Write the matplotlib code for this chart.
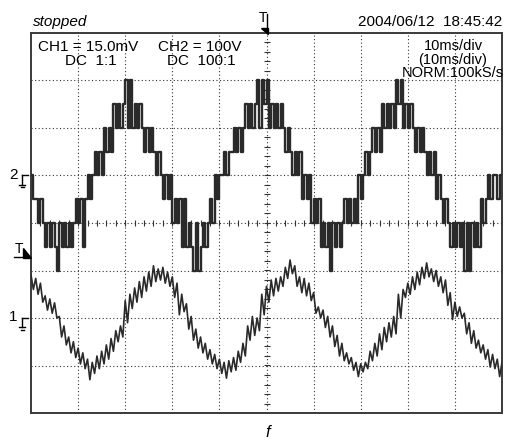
import numpy as np
import matplotlib
matplotlib.use("Agg")
import matplotlib.pyplot as plt
from matplotlib.patches import Polygon

plt.rcParams['font.family'] = ['Liberation Sans', 'DejaVu Sans']

# sample times, ms (10 ms/div, 100 kS/s shown at 0.5 ms spacing)
t_ms = np.arange(0, 100.5, 0.5)

# CH2: multilevel inverter voltage, V (100 V/div), ground marker at +1 div
ch2_volts = [
    0, -50, -50, -100, -50, -100,
    -150, -100, -150, -100, -150, -200, -100, -150, -100, -150, -100, -150, -100,
    -50, -100, -50, -150, -50, 0, -50, 0, 50, 0, 50, 0,
    100, 50, 100, 50, 150, 100, 150, 100, 150, 200, 100, 200,
    100, 150, 100, 150, 100, 50, 100, 50, 100, 50, 0, 50, 0,
    -50, 0, -50, 0, -100, -50, -100, -50, -150, -50,
    -150, -100, -150, -200, -100, -200, -150, -100, -150, -100,
    -50, -100, 0, -50, 0, 0, 50, 0, 50,
    50, 100, 50, 100, 50, 100, 150, 100, 150, 100,
    150, 200, 100, 200, 150, 200, 100, 150, 100, 150, 100, 150, 100,
    50, 100, 50, 0, 50, 0, 50, -50, 0, -50, 0, -100, -50, -100, -50,
    -150, -100, -150, -100, -200, -100, -150, -100, -150, -100,
    -50, -100, -50, -100, -50, -100, 0, -50, 0, 50, 0, 50,
    100, 50, 100, 50, 150, 100, 150, 100, 150, 100,
    200, 150, 200, 100, 150, 100, 150, 100,
    50, 100, 50, 100, 50, 0, 50, 0, 50, -50, 0, -50, -100, -50, -100,
    -150, -100, -150, -100, -150, -100, -200, -100, -200, -100, -150, -100, -150,
    -50, -100, -50, 0, -50, 0, 0, -50, 0, 0,
]

# CH1: current sense signal, mV (15 mV/div), ground marker at -2 div
ch1_mv = [
    13.6, 9.0, 12.5, 7.5, 11.0, 5.0, 7.0, 2.5, 6.0, 1.5,
    4.8, 0.0, 0.5, -6.0, -2.5, -8.5, -6.0, -11.0, -7.5, -12.5,
    -9.5, -14.5, -11.0, -16.0, -13.0, -19.5, -14.0, -17.5, -12.0, -16.0,
    -10.5, -14.5, -8.5, -13.0, -6.5, -10.5, -4.0, -7.5, -2.5, -6.0,
    5.5, -1.5, 7.5, 3.0, 9.5, 5.0, 11.5, 6.5, 13.0, 8.5,
    14.5, 10.0, 16.5, 11.5, 15.5, 12.0, 16.0, 11.0, 14.5, 10.0,
    13.0, 6.5, 11.0, 1.0, 7.5, 2.0, 4.5, -3.5, 0.5, -7.0,
    -3.5, -9.5, -6.0, -11.0, -8.0, -13.0, -10.0, -14.5, -11.5, -16.0,
    -13.0, -17.5, -14.0, -19.0, -13.5, -17.0, -12.5, -16.5, -10.5, -14.0,
    -8.0, -12.0, -2.5, -7.0, 0.5, -5.5, 0.0, -4.0, 7.5, 1.0,
    10.0, 5.0, 12.0, 7.0, 12.5, 8.5, 13.0, 10.0, 16.0, 12.5,
    18.3, 14.0, 16.5, 10.0, 13.0, 8.0, 12.5, 7.0, 11.0, 5.5,
    8.0, 1.5, 3.5, 0.0, 2.5, -3.0, 0.5, -6.0, -2.5, -9.0,
    -5.5, -12.0, -8.0, -13.5, -11.0, -14.5, -12.5, -16.5, -14.0, -18.5,
    -14.5, -17.0, -14.0, -16.0, -10.5, -13.5, -8.0, -12.0, -5.0, -10.0,
    -3.0, -7.5, -1.5, -6.0, 0.5, -5.0, 7.5, 0.0, 9.0, 6.5,
    11.0, 7.5, 13.0, 9.0, 14.5, 10.5, 16.0, 12.5, 17.4, 13.0,
    15.5, 11.5, 15.0, 10.0, 13.0, 8.0, 12.0, 4.0, 8.0, -0.5,
    5.0, 0.5, 3.5, 0.0, 1.5, -5.0, -1.5, -8.0, -4.0, -9.5,
    -7.0, -11.0, -8.5, -13.0, -10.0, -15.5, -11.5, -16.0, -13.0, -18.5, -14.0,
]

ch2_scale, ch2_pos = 100.0, 1.0   # V/div, ground position (div)
ch1_scale, ch1_pos = 15.0, -2.0   # mV/div, ground position (div)

W, H = 505, 448
fig = plt.figure(figsize=(W / 100, H / 100), dpi=100)
L, R, T, B = 31, 502, 33, 413
ax = fig.add_axes([L / W, 1 - B / H, (R - L) / W, (B - T) / H])
ax.set_xlim(0, 100)
ax.set_ylim(-4, 4)
ax.set_xticks([])
ax.set_yticks([])
for s in ax.spines.values():
    s.set_color('#3a3a3a')
    s.set_linewidth(1.4)

# graticule
dot = (0, (1, 2.2))
for gx in range(10, 100, 10):
    ax.axvline(gx, color='#333333', lw=0.8, ls=dot, zorder=1)
for gy in range(-3, 4):
    ax.axhline(gy, color='#333333', lw=0.8, ls=dot, zorder=1)
ax.plot(np.arange(2, 100, 2), np.zeros(49), ls='none', marker='|',
        ms=5, mew=0.8, color='#333333', zorder=1)
ax.plot(np.full(39, 50.0), np.arange(-3.8, 3.9, 0.2), ls='none', marker='_',
        ms=5, mew=0.8, color='#333333', zorder=1)

ch2 = ch2_pos + np.array(ch2_volts) / ch2_scale
ch1 = ch1_pos + np.array(ch1_mv) / ch1_scale
ax.plot(t_ms, ch2, drawstyle='steps-post', color='#2a2a2a', lw=1.7, zorder=3)
ax.plot(t_ms, ch1, color='#2a2a2a', lw=1.2, zorder=3)


def fx(px):
    return px / W


def fy(py):
    return 1 - py / H


# header texts
fig.text(fx(33), fy(22), 'stopped', fontsize=11, style='italic', va='center')
fig.text(fx(502), fy(22), '2004/06/12  18:45:42', fontsize=11, ha='right', va='center')
fig.text(fx(38), fy(47), 'CH1 = 15.0mV', fontsize=11, va='center')
fig.text(fx(65), fy(61), 'DC  1:1', fontsize=11, va='center')
fig.text(fx(158), fy(47), 'CH2 = 100V', fontsize=11, va='center')
fig.text(fx(167), fy(61), 'DC  100:1', fontsize=11, va='center')
for txt, py in [('10ms/div', 46), ('(10ms/div)', 60), ('NORM:100kS/s', 73)]:
    fig.text(fx(453), fy(py), txt, fontsize=10.5, ha='center', va='center')
fig.text(fx(268), fy(432), 'f', fontsize=12, style='italic', ha='center', va='center')

# trigger marker on top
fig.text(fx(263), fy(18), 'T', fontsize=10, ha='center', va='center')
fig.add_artist(plt.Line2D([fx(267), fx(267)], [fy(14), fy(33)], color='black', lw=1))
fig.add_artist(Polygon([[fx(261), fy(28)], [fx(267.5), fy(28)], [fx(267.5), fy(34)]],
                       closed=True, color='black'))

# trigger level marker on left
fig.text(fx(19), fy(249), 'T', fontsize=10, ha='center', va='center')
fig.add_artist(plt.Line2D([fx(14), fx(24)], [fy(257), fy(257)], color='black', lw=1))
fig.add_artist(Polygon([[fx(23), fy(248)], [fx(23), fy(257.5)], [fx(31), fy(257.5)]],
                       closed=True, color='black'))


def ground_mark(label, py):
    fig.text(fx(13), fy(py - 1), label, fontsize=11, ha='center', va='center')
    fig.add_artist(plt.Line2D([fx(22), fx(28)], [fy(py), fy(py)], color='black', lw=1))
    fig.add_artist(plt.Line2D([fx(22), fx(22)], [fy(py), fy(py + 9)], color='black', lw=1))
    fig.add_artist(plt.Line2D([fx(19), fx(25)], [fy(py + 9), fy(py + 9)], color='black', lw=1))
    fig.add_artist(plt.Line2D([fx(20.5), fx(23.5)], [fy(py + 11.5), fy(py + 11.5)], color='black', lw=1))


ground_mark('2', 175.5)
ground_mark('1', 318)

fig.savefig('out.png', dpi=100)
